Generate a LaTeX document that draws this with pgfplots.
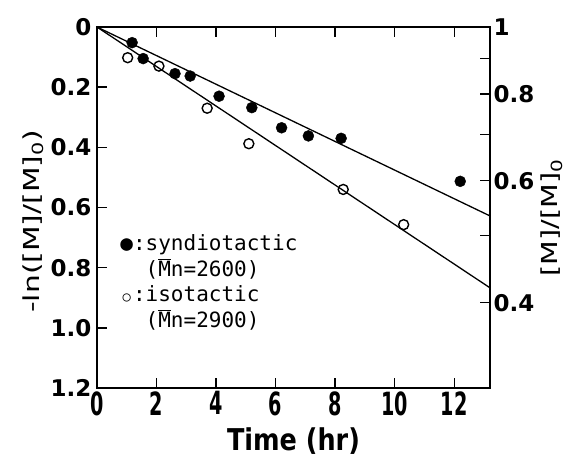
\documentclass[border=0pt]{standalone}
\usepackage{fontspec}
\setmainfont{DejaVu Sans}
\newfontfamily\legfont{DejaVu Sans Mono}
\usepackage{graphicx}
\usepackage{pgfplots}
\usepackage{pgfplotstable}
\pgfplotsset{compat=1.18}

% -ln([M]/[M]0) vs time (hr)
\pgfplotstableread{
t     y
1.18  0.052
1.55  0.105
2.62  0.155
3.13  0.163
4.10  0.230
5.20  0.268
6.20  0.335
7.10  0.362
8.20  0.370
12.2  0.513
}\syndio
\pgfplotstableread{
t     y
1.03  0.102
2.08  0.130
3.70  0.270
5.10  0.388
8.27  0.540
10.3  0.657
}\iso

\newcommand{\xt}[1]{\scalebox{0.6}[1]{#1}}

\begin{document}
\begin{tikzpicture}
\begin{axis}[
    scale only axis, width=393pt, height=361pt,
    xmin=0, xmax=13.2, ymin=0, ymax=1.2, y dir=reverse,
    xtick={0,2,4,6,8,10,12},
    xticklabels={\xt{0},\xt{2},\xt{4},\xt{6},\xt{8},\xt{10},\xt{12}},
    ytick={0,0.2,0.4,0.6,0.8,1.0,1.2},
    yticklabels={0,0.2,0.4,0.6,0.8,1.0,1.2},
    xtick pos=both, ytick pos=left, tick align=inside,
    major tick length=10pt,
    axis line style={line width=2.5pt},
    tick style={line width=1.5pt, black},
    yticklabel style={font=\bfseries\fontsize{23}{23}\selectfont, xshift=-2pt},
    xticklabel style={font=\bfseries\fontsize{32}{32}\selectfont},
    xlabel={\scalebox{0.85}[1]{Time (hr)}},
    xlabel style={font=\bfseries\fontsize{30}{30}\selectfont, yshift=-5pt},
    ylabel={\scalebox{1.35}[1]{-ln([M]/[M]\textsubscript{0})}},
    ylabel style={font=\fontsize{22}{22}\selectfont, xshift=-14pt},
]
\coordinate (LL) at (axis cs:0,1.2);
\addplot[line width=1.3pt] coordinates {(0,0) (13.2,0.628)};
\addplot[line width=1.3pt] coordinates {(0,0) (13.2,0.867)};
\addplot[only marks, mark=*, mark size=5.5pt, mark options={fill=black, draw=black}] table[x=t, y=y] {\syndio};
\addplot[only marks, mark=o, mark size=5pt, mark options={line width=1.4pt, fill=white, draw=black}] table[x=t, y=y] {\iso};
\node[anchor=north west, align=left, inner sep=0pt,
      font=\legfont\fontsize{21}{25.5}\selectfont]
  at (axis cs:0.78,0.69)
  {●:syndiotactic\\\phantom{●:}($\overline{\mbox{M}}$n=2600)\\\makebox[0.602em]{\scalebox{0.65}{○}}:isotactic\\\phantom{●:}($\overline{\mbox{M}}$n=2900)};
\end{axis}
\begin{axis}[
    scale only axis, width=393pt, height=361pt,
    xmin=0, xmax=13.2, ymin=0, ymax=1.2, y dir=reverse,
    axis x line=none, axis y line*=right,
    ytick={0,0.2231,0.5108,0.9163}, yticklabels={1,0.8,0.6,0.4},
    minor ytick={0.1054,0.3567,0.6931},
    tick align=inside,
    major tick length=10pt, minor tick length=10pt,
    axis line style={line width=2.5pt, -},
    tick style={line width=1.5pt, black},
    yticklabel style={font=\bfseries\fontsize{23}{23}\selectfont},
    ylabel={\scalebox{1.3}[1]{[M]/[M]\textsubscript{0}}},
    ylabel style={font=\fontsize{22}{22}\selectfont, at={(ticklabel cs:0.46)}, xshift=4pt},
]
\addplot[draw=none] coordinates {(0,0)};
\end{axis}
\pgfresetboundingbox
\path (LL) ++(-97pt,-71pt) rectangle ++(581pt,459pt);
\end{tikzpicture}
\end{document}
